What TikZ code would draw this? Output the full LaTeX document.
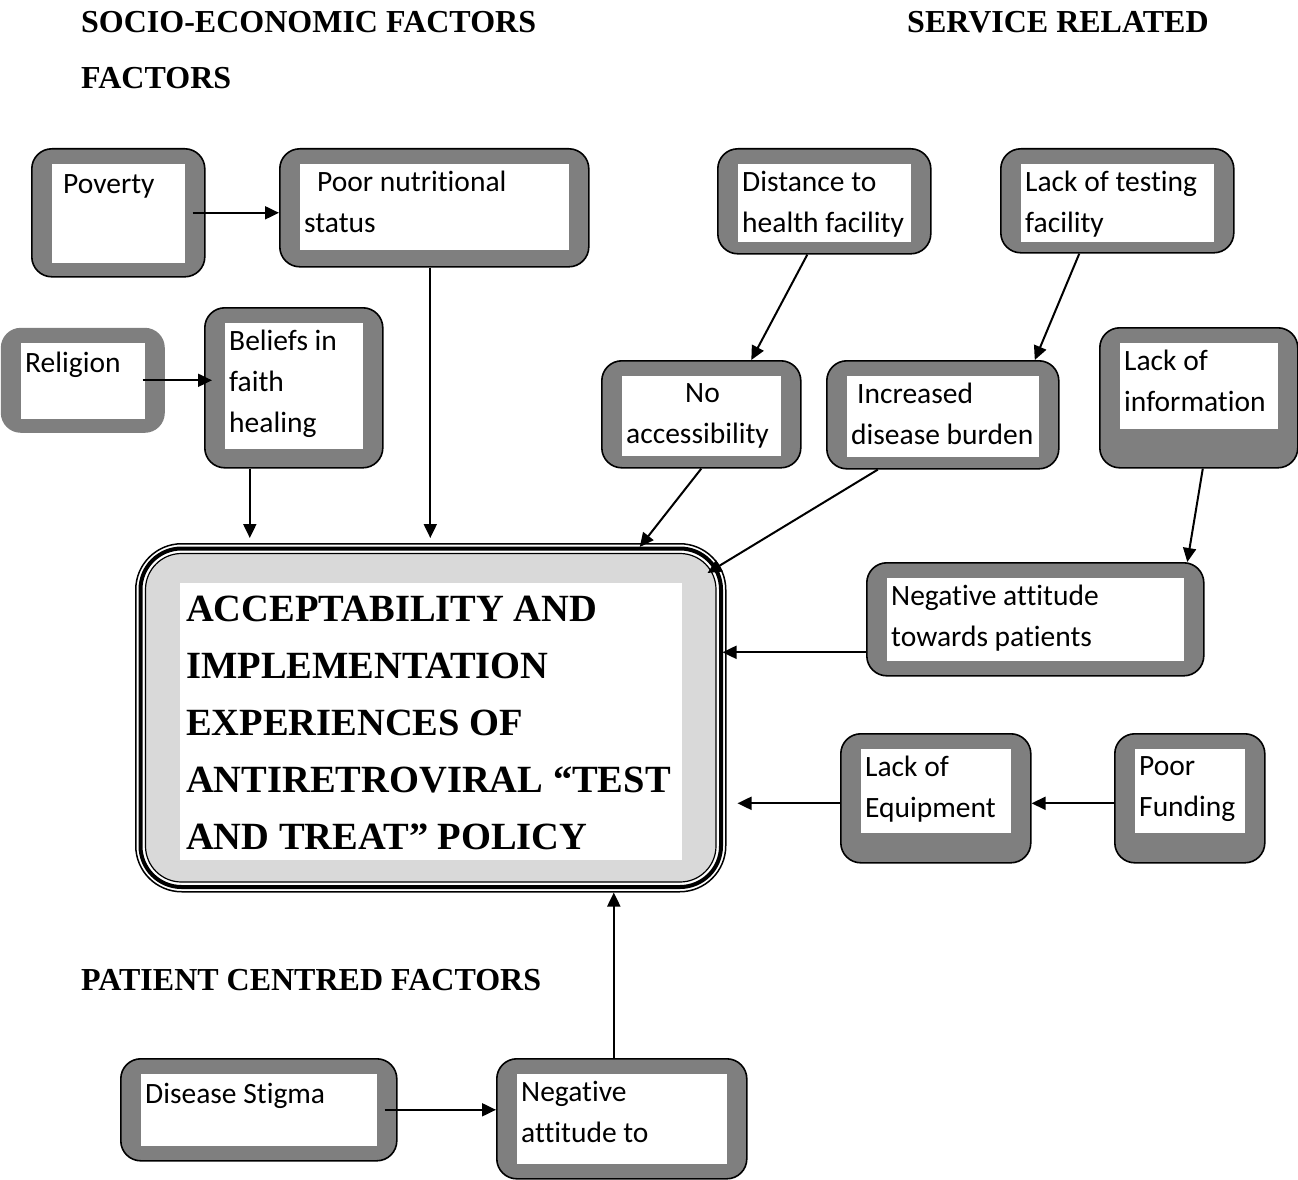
\documentclass[tikz,border=0pt]{standalone}
\usepackage{fontspec}
\setmainfont{Liberation Serif}
\newfontfamily\boxfont[Ligatures=NoCommon]{Carlito}
\usetikzlibrary{calc,arrows.meta}

\definecolor{boxgray}{RGB}{127,127,127}
\definecolor{coregray}{RGB}{217,217,217}

\tikzset{
  outerbox/.style={draw=black, fill=boxgray, line width=1.6pt, rounded corners=20pt, inner sep=0pt, anchor=north west},
  boxtext/.style={anchor=north west, inner sep=0pt, align=left, font=\boxfont\fontsize{29.5}{41}\selectfont, execute at begin node={\rule{0pt}{22pt}}},
  coretext/.style={anchor=north west, inner sep=0pt, align=left, font=\bfseries\fontsize{38.5}{57}\selectfont, execute at begin node={\rule{0pt}{27pt}}},
  heading/.style={anchor=base west, inner sep=0pt, font=\bfseries\fontsize{32}{38}\selectfont},
  arr/.style={line width=2pt, -{Triangle[length=14pt,width=13pt]}}
}

% [box options] name, x1, y1, x2, y2, bottom inset, text
\newcommand{\factor}[8][]{%
  \node[outerbox, #1, minimum width={#5pt-#3pt}, minimum height={#6pt-#4pt}] (#2) at (#3,#4) {};
  \fill[white] ($(#2.north west)+(21,16)$) rectangle ($(#2.south east)+(-21,-#7)$);
  \node[boxtext] at ($(#2.north west)+(25,23)$) {#8};
}

\begin{document}
\begin{tikzpicture}[x=1pt, y=-1pt]
  \useasboundingbox (0,0) rectangle (1298,1180);

  % headings
  \node[heading] (socio) at (81,33) {SOCIO-ECONOMIC FACTORS};
  \node[heading] (service) at (907,33) {SERVICE RELATED};
  \node[heading] (factors) at (81,89) {FACTORS};
  \node[heading] (patient) at (81,990) {PATIENT CENTRED FACTORS};

  % factor boxes
  \factor{poverty}{31}{148}{204}{276}{15}{\hspace*{7pt}Poverty}
  \factor{nutrition}{279}{148}{588}{266}{18}{\hspace*{13pt}Poor nutritional\\status}
  \factor[draw=none]{religion}{0}{327}{164}{432}{15}{Religion}
  \factor{beliefs}{204}{307}{382}{467}{20}{Beliefs in\\faith\\healing}
  \factor{distance}{717}{148}{930}{253}{13}{Distance to\\health facility}
  \factor{testing}{1000}{148}{1233}{252}{12}{Lack of testing\\facility}
  \factor{noaccess}{601}{360}{800}{467}{13}{\hspace*{59pt}No\\accessibility}
  \factor{increased}{826}{360}{1058}{468}{13}{\hspace*{6pt}Increased\\disease burden}
  \factor{info}{1099}{327}{1297}{467}{40}{Lack of\\information}
  \factor{attitude}{866}{562}{1203}{675}{16}{Negative attitude\\towards patients}
  \factor{equip}{840}{733}{1030}{862}{31}{Lack of\\Equipment}
  \factor{funding}{1114}{733}{1264}{862}{31}{Poor\\Funding}
  \factor{stigma}{120}{1058}{396}{1160}{16}{Disease Stigma}
  \factor{negto}{496}{1058}{746}{1178}{16}{Negative\\attitude to}

  % central box
  \node[draw, line width=1.5pt, rounded corners=46pt, minimum width=590pt, minimum height=348pt, anchor=north west, inner sep=0pt] (policy) at (135,543) {};
  \draw[line width=4pt, rounded corners=41pt] ($(policy.north west)+(5.5,5.5)$) rectangle ($(policy.south east)+(-5.5,-5.5)$);
  \draw[line width=1.2pt, fill=coregray, rounded corners=36pt] ($(policy.north west)+(10.5,10.5)$) rectangle ($(policy.south east)+(-10.5,-10.5)$);
  \fill[white] ($(policy.north west)+(45,40)$) rectangle ($(policy.south east)+(-45,-33)$);
  \node[coretext] (title) at ($(policy.north west)+(51,53)$) {ACCEPTABILITY AND\\IMPLEMENTATION\\EXPERIENCES OF\\ANTIRETROVIRAL “TEST\\AND TREAT” POLICY};

  % arrows
  \draw[arr] ([xshift=-13pt]poverty.east) -- (poverty.east -| nutrition.west);
  \draw[arr] ([xshift=-23pt]religion.east) -- ($(religion.east -| beliefs.west)+(8,0)$);
  \draw[arr] ([xshift=-44pt]beliefs.south) -- ($(beliefs.south |- policy.north)+(-44,-5)$);
  \draw[arr] ([xshift=-4pt]nutrition.south) -- ($(nutrition.south |- policy.north)+(-4,-5)$);
  \draw[arr] ([xshift=-17pt]distance.south) -- ([xshift=50pt]noaccess.north);
  \draw[arr] ([xshift=-38pt]testing.south) -- ([xshift=92pt]increased.north);
  \draw[arr] (noaccess.south) -- ($(policy.north)+(209,4)$);
  \draw[arr] ([xshift=-65pt]increased.south) -- ($(policy.north east)+(-19,30)$);
  \draw[arr] ([xshift=4pt]info.south) -- ([xshift=152pt]attitude.north);
  \draw[arr] ($(attitude.west)+(0,33)$) -- ($(policy.east |- attitude.west)+(-4,33)$);
  \draw[arr] ($(funding.west)+(0,5)$) -- ($(equip.east |- funding.west)+(0,5)$);
  \draw[arr] ($(equip.west)+(0,5)$) -- ($(policy.east |- equip.west)+(11,5)$);
  \draw[arr] ([xshift=-8pt]negto.north) -- ($(negto.north |- policy.south)+(-8,0)$);
  \draw[arr] ([xshift=-13pt]stigma.east) -- (stigma.east -| negto.west);
\end{tikzpicture}
\end{document}
